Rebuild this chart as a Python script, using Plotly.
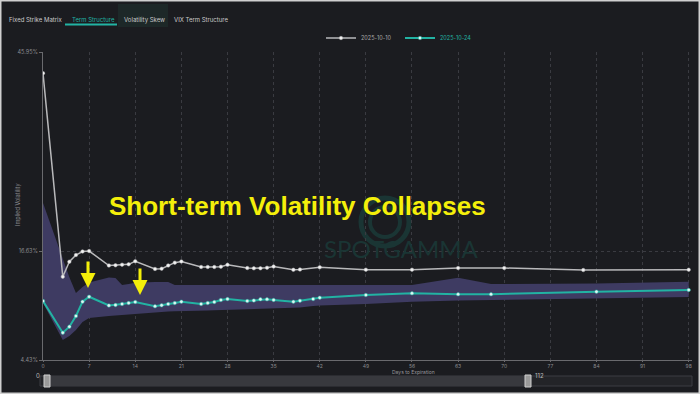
import plotly.graph_objects as go

# ---- data ----
dates = ["2025-10-10", "2025-10-24"]

gray_days = [0, 3, 4, 5, 6, 7, 10, 11, 12, 13, 14, 17, 18, 19, 20, 21, 24, 25, 26, 27, 28,
             31, 32, 33, 34, 35, 38, 39, 42, 49, 56, 63, 70, 82, 98]
gray_iv = [43.1, 15.66, 17.68, 18.58, 19.06, 19.12, 17.17, 17.2, 17.28, 17.33, 17.74,
           16.70, 16.74, 17.17, 17.55, 17.71, 16.97, 16.97, 16.97, 17.01, 17.26,
           16.83, 16.79, 16.79, 16.87, 17.03, 16.59, 16.63, 16.93, 16.60, 16.60, 16.83,
           16.83, 16.56, 16.60]

teal_days = [0, 3, 4, 5, 6, 7, 10, 11, 12, 13, 14, 17, 18, 19, 20, 21, 24, 25, 26, 27, 28,
             31, 32, 33, 34, 35, 38, 39, 41, 42, 49, 56, 63, 68, 84, 98]
teal_iv = [12.38, 8.11, 8.92, 10.36, 12.29, 12.96, 11.78, 11.84, 11.98, 12.11, 12.25,
           11.67, 11.80, 11.98, 12.11, 12.29, 11.98, 12.11, 12.25, 12.52, 12.65,
           12.38, 12.45, 12.61, 12.61, 12.52, 12.29, 12.42, 12.65, 12.83, 13.19, 13.42,
           13.29, 13.29, 13.64, 13.87]

band_upper = [25.6, 18.09, 15.59, 13.46, 14.27, 14.88, 15.55, 15.48, 14.54, 14.68, 14.85,
              14.94, 14.94, 14.94, 14.54, 14.54, 14.54, 14.54, 14.54, 14.54, 14.54,
              14.54, 14.54, 14.54, 14.54, 14.54, 14.54, 14.54, 14.54, 14.54, 14.54, 14.54,
              15.52, 14.68, 14.74, 14.99]
band_lower = [12.1, 7.13, 7.67, 8.47, 9.55, 10.09, 10.36, 10.43, 10.50, 10.56, 10.63,
              10.90, 10.93, 10.97, 11.00, 11.04, 11.08, 11.10, 11.12, 11.15, 11.17,
              11.20, 11.23, 11.26, 11.29, 11.31, 11.44, 11.50, 11.71, 11.78, 11.98, 12.29,
              12.45, 12.52, 12.72, 12.92]

x_ticks = [0, 7, 14, 21, 28, 35, 42, 49, 56, 63, 70, 77, 84, 91, 98]
y_ticks = [4.43, 19.1, 45.95]
y_tick_text = ["4.43%", "16.63%", "45.95%"]

headline = "Short-term Volatility Collapses"
tabs = ["Fixed Strike Matrix", "Term Structure", "Volatility Skew", "VIX Term Structure"]

# ---- figure ----
BG = "#1b1c20"
GRAY = "#b9b9bb"
TEAL = "#22b3a3"
L, R, T, B = 43, 8, 52, 34
W, H = 700, 394
PW, PH = W - L - R, H - T - B


def px(x):
    return (x - L) / PW


def py(y):
    return (H - B - y) / PH


fig = go.Figure()

fig.add_trace(go.Scatter(x=teal_days, y=band_upper, mode="lines", line=dict(width=0),
                         showlegend=False, hoverinfo="skip"))
fig.add_trace(go.Scatter(x=teal_days, y=band_lower, mode="lines", line=dict(width=0),
                         fill="tonexty", fillcolor="#3e3b62", showlegend=False,
                         hoverinfo="skip"))

fig.add_trace(go.Scatter(x=gray_days, y=gray_iv, mode="lines+markers", name=dates[0],
                         line=dict(color=GRAY, width=1.5),
                         marker=dict(symbol="circle", size=3.5, color="#f2f2f2",
                                     line=dict(color=GRAY, width=0.5))))
fig.add_trace(go.Scatter(x=teal_days, y=teal_iv, mode="lines+markers",
                         name="<span style='color:%s'>%s</span>" % (TEAL, dates[1]),
                         line=dict(color=TEAL, width=2),
                         marker=dict(symbol="circle", size=3.5, color="#dff7f3",
                                     line=dict(color=TEAL, width=0.5))))

shapes = []
# outer frame
shapes.append(dict(type="rect", xref="paper", yref="paper", x0=px(0.5), x1=px(W - 0.5),
                   y0=py(H - 0.5), y1=py(0.5), line=dict(color="#d0d0d0", width=2)))
# tab highlight
shapes.append(dict(type="rect", xref="paper", yref="paper", x0=px(118), x1=px(168),
                   y0=py(27), y1=py(4), fillcolor="#1d2828", line=dict(width=0), layer="below"))
shapes.append(dict(type="line", xref="paper", yref="paper", x0=px(65), x1=px(117),
                   y0=py(24.5), y1=py(24.5), line=dict(color=TEAL, width=2)))
# watermark logo
for r_, w_ in [(24, 5), (15, 4)]:
    shapes.append(dict(type="circle", xref="paper", yref="paper", x0=px(385 - r_),
                       x1=px(385 + r_), y0=py(222 + r_), y1=py(222 - r_),
                       line=dict(color="#1a3534", width=w_), layer="below"))
# range slider
shapes.append(dict(type="rect", xref="paper", yref="paper", x0=px(40), x1=px(692),
                   y0=py(386), y1=py(376), fillcolor="#232428",
                   line=dict(color="#3c3d42", width=1)))
shapes.append(dict(type="rect", xref="paper", yref="paper", x0=px(46), x1=px(528),
                   y0=py(386), y1=py(376), fillcolor="#38393e", line=dict(width=0)))
for hx in [47, 528]:
    shapes.append(dict(type="rect", xref="paper", yref="paper", x0=px(hx - 3), x1=px(hx + 3),
                       y0=py(387), y1=py(375), fillcolor="#9a9a9a",
                       line=dict(color="#cfcfcf", width=1)))

annotations = []
tab_left = [7, 70, 122, 172]
for t_, x_ in zip(tabs, tab_left):
    annotations.append(dict(text=t_, x=px(x_), y=py(14), xref="paper", yref="paper",
                            xanchor="left", showarrow=False,
                            font=dict(size=6, color=TEAL if t_ == "Term Structure" else "#c9c9c9")))
annotations.append(dict(text=headline, x=px(297), y=py(206), xref="paper", yref="paper",
                        showarrow=False,
                        font=dict(family="Liberation Sans, Arial", size=26, color="#f4ef0a",
                                  weight="bold")))
annotations.append(dict(text="SPOTGAMMA", x=px(401), y=py(265), xref="paper", yref="paper",
                        showarrow=False,
                        font=dict(family="Lato, Arial", size=24, color="#1a3534")))
for ax_px, tip in [(88, 288), (140, 295)]:
    annotations.append(dict(x=px(ax_px), y=py(tip), xref="paper", yref="paper", text="",
                            showarrow=True, ax=0, ay=-28, arrowhead=2, arrowsize=1,
                            arrowwidth=3, arrowcolor="#f4ef0a"))
annotations.append(dict(text="Implied Volatility", x=px(12), y=py(205), xref="paper",
                        yref="paper", textangle=-90, showarrow=False,
                        font=dict(size=5.5, color="#8a8a8e")))
annotations.append(dict(text="Days to Expiration", x=px(413), y=py(372), xref="paper",
                        yref="paper", yanchor="middle", showarrow=False,
                        font=dict(size=5, color="#9a9a9e")))
annotations.append(dict(text="0", x=px(42), y=py(381), xref="paper", yref="paper",
                        xanchor="right", showarrow=False, font=dict(size=6, color="#bbbbbb")))
annotations.append(dict(text="112", x=px(533), y=py(381), xref="paper", yref="paper",
                        xanchor="left", showarrow=False, font=dict(size=6, color="#bbbbbb")))

fig.update_layout(
    width=W, height=H,
    margin=dict(l=L, r=R, t=T, b=B),
    paper_bgcolor=BG, plot_bgcolor=BG,
    font=dict(family="Inter, Roboto, Arial", color="#8a8a8e", size=6),
    showlegend=True,
    legend=dict(orientation="h", x=px(400), xanchor="center", y=py(38),
                yanchor="middle", traceorder="normal", itemwidth=30,
                entrywidth=34, entrywidthmode="pixels",
                font=dict(size=5.5, color="#a9a9a9"), bgcolor="rgba(0,0,0,0)"),
    shapes=shapes,
    annotations=annotations,
)
fig.update_xaxes(range=[0, 98.5], tickvals=x_ticks, showgrid=True, gridcolor="#3a3b41",
                 griddash="dot", gridwidth=1, zeroline=False, showline=True,
                 linecolor="#6a6a6e", ticks="outside", ticklen=1, tickcolor="#6a6a6e",
                 tickfont=dict(size=5, color="#8a8a8e"))
fig.update_yaxes(range=[4.43, 45.95], tickvals=y_ticks, ticktext=y_tick_text, showgrid=True,
                 gridcolor="#3a3b41", griddash="dot", gridwidth=1, zeroline=False,
                 showline=True, linecolor="#6a6a6e", ticks="outside", ticklen=3,
                 tickcolor="#6a6a6e", tickfont=dict(size=5.5, color="#8a8a8e"))

fig.write_html("out.html", config={"displayModeBar": False},
               post_script="document.body.style.margin='0px';document.body.style.overflow='hidden';")
